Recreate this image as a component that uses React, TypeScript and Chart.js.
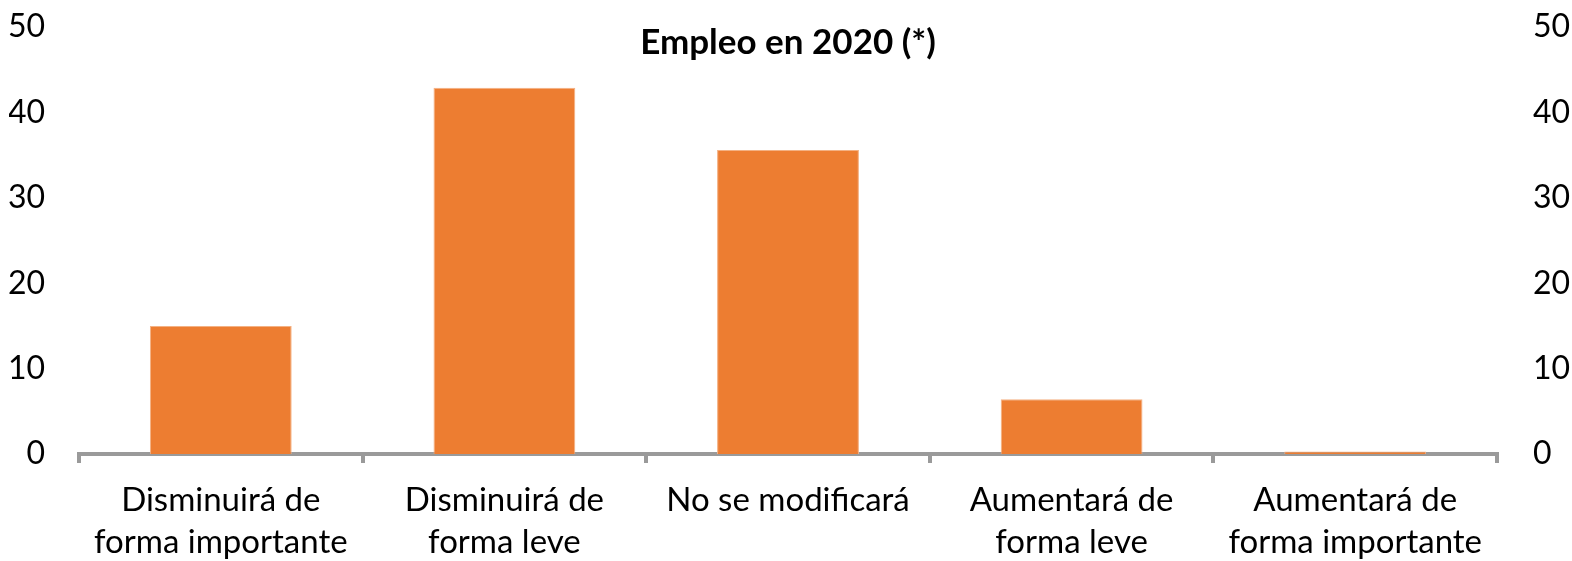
import React, { useEffect, useRef } from "react";
import { Chart, registerables } from "chart.js";

Chart.register(...registerables);

const categories: string[][] = [
  ["Disminuirá de", "forma importante"],
  ["Disminuirá de", "forma leve"],
  ["No se modificará"],
  ["Aumentará de", "forma leve"],
  ["Aumentará de", "forma importante"],
];
const values: number[] = [15, 42.9, 35.6, 6.4, 0.3];
const titleText = "Empleo en 2020 (*)";
const yMin = 0;
const yMax = 50;
const yStep = 10;

const FONT = "Lato, 'Open Sans', sans-serif";

const titlePlugin = {
  id: "insideTitle",
  afterDraw(chart: any) {
    const { ctx, chartArea } = chart;
    ctx.save();
    ctx.font = `bold 35px ${FONT}`;
    ctx.fillStyle = "#000";
    ctx.textAlign = "center";
    ctx.textBaseline = "middle";
    ctx.fillText(titleText, (chartArea.left + chartArea.right) / 2, chartArea.top + 16);
    ctx.restore();
  },
};

export default function App() {
  const ref = useRef<HTMLCanvasElement | null>(null);
  useEffect(() => {
    document.body.style.margin = "0";
    const canvas = ref.current;
    if (!canvas) return;
    const yFont = { family: FONT, size: 32 };
    const chart = new Chart(canvas, {
      type: "bar",
      data: {
        labels: categories,
        datasets: [
          {
            data: values,
            backgroundColor: "#ED7D31",
            borderColor: "#F4B183",
            borderWidth: 1,
            categoryPercentage: 1,
            barPercentage: 0.5,
          },
        ],
      },
      plugins: [titlePlugin],
      options: {
        responsive: false,
        animation: false,
        maintainAspectRatio: false,
        layout: { padding: { left: 9, right: 0, top: 27, bottom: 0 } },
        plugins: { legend: { display: false }, title: { display: false }, tooltip: { enabled: false } },
        scales: {
          x: {
            grid: {
              display: true,
              drawOnChartArea: false,
              drawTicks: true,
              tickLength: 9,
              color: "#9a9a9a",
              lineWidth: 4,
              offset: true,
            },
            border: { display: true, color: "#9a9a9a", width: 4 },
            ticks: { font: { family: FONT, size: 33, lineHeight: 1.28 }, color: "#000", padding: 16, maxRotation: 0, autoSkip: false },
            afterFit(scale: any) {
              scale.height = 107;
              scale.paddingLeft = 0;
              scale.paddingRight = 0;
            },
          },
          y: {
            position: "left",
            min: yMin,
            max: yMax,
            grid: { display: false, drawTicks: false },
            border: { display: false },
            ticks: { stepSize: yStep, font: yFont, color: "#000", padding: 34 },
            afterFit(scale: any) {
              scale.width = 70;
              scale.paddingTop = 0;
              scale.paddingBottom = 0;
            },
          },
          y2: {
            position: "right",
            min: yMin,
            max: yMax,
            grid: { display: false, drawTicks: false },
            border: { display: false },
            ticks: { stepSize: yStep, font: yFont, color: "#000", padding: 36 },
            afterFit(scale: any) {
              scale.width = 75;
              scale.paddingTop = 0;
              scale.paddingBottom = 0;
            },
          },
        },
      },
    });
    return () => chart.destroy();
  }, []);
  return (
    <div style={{ width: 1572, height: 561 }}>
      <canvas ref={ref} width={1572} height={561} style={{ width: 1572, height: 561, display: "block" }} />
    </div>
  );
}
